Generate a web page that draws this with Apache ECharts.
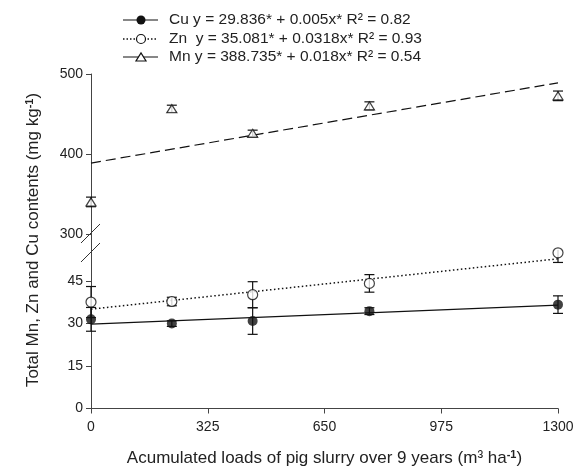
<!DOCTYPE html>
<html>
<head>
<meta charset="utf-8">
<script src="https://cdn.jsdelivr.net/npm/echarts@6/dist/echarts.min.js"></script>
<style>
html,body{margin:0;padding:0;background:#fff;}
#main{width:578px;height:468px;}
</style>
</head>
<body>
<div id="main"></div>
<script>
// data
var loads = [0, 225, 450, 775, 1300];
var cu = [31.5, 30.0, 30.9, 34.4, 36.7];
var cuErr = [4.2, 1.0, 4.7, 1.2, 3.1];
var zn = [37.6, 37.8, 40.2, 44.2, 55.0];
var znErr = [5.5, 1.5, 4.6, 3.1, 3.4];
var mn = [340.1, 456.5, 425.8, 460.2, 472.7];
var mnErr = [6, 4.5, 4, 5, 6];
// fitted lines as drawn (ends at 0 and 1300)
var fitX = [0, 1300];
var cuFit = [29.8, 36.5];
var znFit = [35.1, 52.9];
var mnFit = [388.7, 489];
var lowTicks = [0, 15, 30, 45];
var highTicks = [300, 400, 500];
var legendNames = [
    'Cu y = 29.836* + 0.005x* R² = 0.82',
    'Zn  y = 35.081* + 0.0318x* R² = 0.93',
    'Mn y = 388.735* + 0.018x* R² = 0.54'
];

var font = '"Liberation Sans", Arial, sans-serif';
var ink = '#111';
var txt = '#222';

var myChart = echarts.init(document.getElementById('main'));

function pairs(xs, ys) {
    return xs.map(function (x, i) { return [x, ys[i]]; });
}

function errorBars(axis, vals, errs) {
    return {
        type: 'custom',
        xAxisIndex: axis, yAxisIndex: axis,
        clip: false,
        z: 3,
        data: loads.map(function (x, i) { return [x, vals[i] - errs[i], vals[i] + errs[i]]; }),
        renderItem: function (params, api) {
            var lo = api.coord([api.value(0), api.value(1)]);
            var hi = api.coord([api.value(0), api.value(2)]);
            var top = params.coordSys.y;
            var st = { stroke: ink, lineWidth: 1.2 };
            var kids = [
                { type: 'line', shape: { x1: lo[0], y1: lo[1], x2: hi[0], y2: Math.max(hi[1], top) }, style: st },
                { type: 'line', shape: { x1: lo[0] - 5, y1: lo[1], x2: lo[0] + 5, y2: lo[1] }, style: st }
            ];
            // bar cut by the axis break: no upper cap
            if (hi[1] >= top) {
                kids.push({ type: 'line', shape: { x1: hi[0] - 5, y1: hi[1], x2: hi[0] + 5, y2: hi[1] }, style: st });
            }
            return { type: 'group', children: kids };
        }
    };
}

function yAxisOpt(grid, min, max, ticks) {
    return {
        type: 'value', gridIndex: grid, min: min, max: max,
        axisLine: { show: true, lineStyle: { color: '#444', width: 1 } },
        axisTick: { show: true, length: 5, customValues: ticks, lineStyle: { color: '#444' } },
        axisLabel: { customValues: ticks, color: txt, fontSize: 14, fontFamily: font, margin: 8 },
        splitLine: { show: false }
    };
}

var option = {
    animation: false,
    backgroundColor: '#fff',
    grid: [
        { left: 91, width: 467, top: 74, height: 176 },   // Mn part
        { left: 91, width: 467, top: 250, height: 161 }   // Cu, Zn part
    ],
    xAxis: [
        { type: 'value', gridIndex: 0, min: 0, max: 1300, show: false },
        {
            type: 'value', gridIndex: 1, min: 0, max: 1300, interval: 325,
            axisLine: { lineStyle: { color: '#444' } },
            axisTick: { length: 5, lineStyle: { color: '#444' } },
            axisLabel: {
                color: txt, fontSize: 14, fontFamily: font, margin: 12,
                formatter: function (v) { return String(v); }
            },
            splitLine: { show: false },
            name: 'Acumulated loads of pig slurry over 9 years (m³ ha{s|-1})',
            nameLocation: 'middle',
            nameGap: 41,
            nameTextStyle: {
                color: txt, fontSize: 17, fontFamily: font,
                rich: { s: { fontSize: 11, fontFamily: font, color: txt, fontWeight: 'bold', verticalAlign: 'top', padding: [0, 0, 7, 0] } }
            }
        }
    ],
    yAxis: [
        yAxisOpt(0, 280, 500, highTicks),
        yAxisOpt(1, 0, 56, lowTicks)
    ],
    graphic: [
        // axis break marks
        { type: 'line', shape: { x1: 81, y1: 243, x2: 100, y2: 224 }, style: { stroke: '#333', lineWidth: 1 }, z: 10 },
        { type: 'line', shape: { x1: 81, y1: 262, x2: 100, y2: 243 }, style: { stroke: '#333', lineWidth: 1 }, z: 10 },
        // y axis title
        {
            type: 'text', x: 33, y: 240, rotation: Math.PI / 2,
            style: {
                text: '{a|Total Mn, Zn and Cu contents (mg kg}{s|-1}{a|)}',
                align: 'center', verticalAlign: 'middle',
                rich: {
                    a: { fontSize: 17, fontFamily: font, fill: txt },
                    s: { fontSize: 11, fontFamily: font, fill: txt, fontWeight: 'bold', verticalAlign: 'top', padding: [0, 0, 7, 0] }
                }
            }
        },
        // legend
        { type: 'line', shape: { x1: 123, y1: 20, x2: 158, y2: 20 }, style: { stroke: ink, lineWidth: 1.2 } },
        { type: 'circle', shape: { cx: 141, cy: 20, r: 4.5 }, style: { fill: ink } },
        { type: 'text', x: 169, y: 20, style: { text: legendNames[0], fill: txt, font: '15.5px ' + font, verticalAlign: 'middle' } },
        { type: 'line', shape: { x1: 123, y1: 39, x2: 158, y2: 39 }, style: { stroke: ink, lineWidth: 1.3, lineDash: [1.5, 2] } },
        { type: 'circle', shape: { cx: 141, cy: 39, r: 4.5 }, style: { fill: '#fff', stroke: ink, lineWidth: 1.2 } },
        { type: 'text', x: 169, y: 39, style: { text: legendNames[1], fill: txt, font: '15.5px ' + font, verticalAlign: 'middle' } },
        { type: 'line', shape: { x1: 123, y1: 57, x2: 158, y2: 57 }, style: { stroke: ink, lineWidth: 1.2 } },
        { type: 'polygon', shape: { points: [[136, 61], [146, 61], [141, 53]] }, style: { fill: '#fff', stroke: ink, lineWidth: 1.2 } },
        { type: 'text', x: 169, y: 57, style: { text: legendNames[2], fill: txt, font: '15.5px ' + font, verticalAlign: 'middle' } }
    ],
    series: [
        // fitted lines
        {
            type: 'line', xAxisIndex: 1, yAxisIndex: 1, data: pairs(fitX, cuFit),
            showSymbol: false, lineStyle: { color: ink, width: 1.2 }, z: 2
        },
        {
            type: 'line', xAxisIndex: 1, yAxisIndex: 1, data: pairs(fitX, znFit),
            showSymbol: false, lineStyle: { color: ink, width: 1.5, type: [1.5, 2.5] }, z: 2
        },
        {
            type: 'line', xAxisIndex: 0, yAxisIndex: 0, data: pairs(fitX, mnFit),
            showSymbol: false, lineStyle: { color: ink, width: 1.2, type: [10, 5] }, z: 2
        },
        // error bars
        errorBars(1, cu, cuErr),
        errorBars(1, zn, znErr),
        errorBars(0, mn, mnErr),
        // points
        {
            type: 'scatter', xAxisIndex: 1, yAxisIndex: 1, data: pairs(loads, cu),
            symbol: 'circle', symbolSize: 10, itemStyle: { color: ink }, z: 5
        },
        {
            type: 'scatter', xAxisIndex: 1, yAxisIndex: 1, data: pairs(loads, zn),
            symbol: 'circle', symbolSize: 10, itemStyle: { color: '#fff', borderColor: ink, borderWidth: 1.2 }, z: 5
        },
        {
            type: 'scatter', xAxisIndex: 0, yAxisIndex: 0, data: pairs(loads, mn),
            symbol: 'triangle', symbolSize: [10, 8], itemStyle: { color: '#fff', borderColor: ink, borderWidth: 1.2 }, z: 5
        }
    ]
};

myChart.setOption(option);
</script>
</body>
</html>
